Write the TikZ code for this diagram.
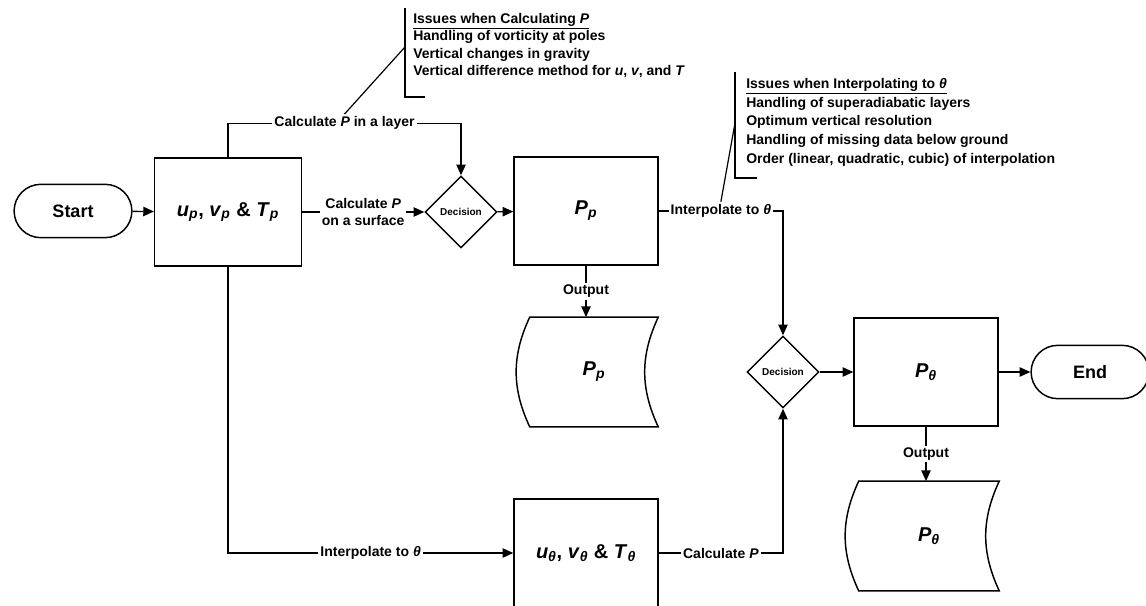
\documentclass[tikz,border=0pt]{standalone}
\usepackage{fontspec}
\setmainfont{Liberation Sans}
\usetikzlibrary{shapes.geometric,shapes.misc,arrows.meta}

\newcommand\vsub[2]{\textit{#1}\textsubscript{\textit{#2}}}

\begin{document}
\begin{tikzpicture}[x=0.75pt, y=-0.75pt, font=\bfseries\fontsize{10.5}{13}\selectfont,
  box/.style={draw, line width=1.1pt, minimum width=108pt, minimum height=81pt, font=\bfseries\fontsize{15}{18}\selectfont},
  term/.style={draw, rounded rectangle, line width=1.1pt, minimum width=95pt, minimum height=40pt, font=\bfseries\fontsize{13.5}{16}\selectfont},
  decision/.style={draw, diamond, line width=1.1pt, minimum width=54pt, minimum height=54pt, inner sep=0pt, font=\bfseries\fontsize{7.5}{9}\selectfont},
  store/.style={minimum height=82pt, font=\bfseries\fontsize{15}{18}\selectfont},
  arr/.style={line width=1pt, -{Triangle[length=8pt,width=7pt]}},
  line/.style={line width=0.9pt},
  lbl/.style={fill=white, inner sep=1.5pt},
  issues/.style={anchor=north west, align=left, inner sep=0pt}]
\useasboundingbox (0,0) rectangle (1146,606);

\node[term] (start) at (73,211) {Start};
\node[box, minimum width=110pt] (b1) at (228,212) {\vsub{u}{p}, \vsub{v}{p} \& \vsub{T}{p}};
\node[decision] (dec1) at (461,212) {Decision};
\node[box] (b2) at (586,211) {\vsub{P}{p}};
\node[store, minimum width=96pt] (d1) at (594,372) {\vsub{P}{p}};
\node[decision] (dec2) at (783,372) {Decision};
\node[box] (b3) at (926,372) {\vsub{P}{θ}};
\node[term] (end) at (1090,372) {End};
\node[store, minimum width=105pt] (d2) at (929,536) {\vsub{P}{θ}};
\node[box] (b4) at (586,553) {\vsub{u}{θ}, \vsub{v}{θ} \& \vsub{T}{θ}};

\foreach \d in {d1,d2}
  \draw[line width=1.1pt] (\d.north east) -- (\d.north west) to[bend right=25] (\d.south west)
    -- (\d.south east) to[bend left=25] (\d.north east) -- cycle;

\draw[arr] (start) -- (b1);
\draw[arr] (b1) -- node[lbl, align=center] {Calculate \textit{P}\\on a surface} (dec1);
\draw[arr] (b1.north) -- ++(0,-34) -| node[lbl, pos=0.25] (lay) {Calculate \textit{P} in a layer} (dec1.north);
\draw[arr] (dec1) -- (b2);
\draw[arr] (b2.south) -- node[lbl] {Output} (b2.south |- d1.north);
\draw[arr] (b2.east) -| node[lbl, pos=0.25] (itp) {Interpolate to \textit{θ}} (dec2.north);
\draw[arr] (b1.south) |- node[lbl, pos=0.75] {Interpolate to \textit{θ}} (b4.west);
\draw[arr] (b4.east) -| node[lbl, pos=0.25] {Calculate \textit{P}} (dec2.south);
\draw[arr] (dec2) -- (b3);
\draw[arr] (b3) -- (end);
\draw[arr] (b3.south) -- node[lbl] {Output} (b3.south |- d2.north);

\node[issues, font=\bfseries\fontsize{10.5}{13.1}\selectfont] (iss1) at (413,13) {\underline{Issues when Calculating \textit{P}}\\
  Handling of vorticity at poles\\
  Vertical changes in gravity\\
  Vertical difference method for \textit{u}, \textit{v}, and \textit{T}};
\draw[line] (405,8) -- (405,97) -- (425,97);
\coordinate (br1) at (405,47);
\draw[line] (br1) -- (lay.north);

\node[issues, font=\bfseries\fontsize{10.5}{14}\selectfont] (iss2) at (746,78) {\underline{Issues when Interpolating to \textit{θ}}\\
  Handling of superadiabatic layers\\
  Optimum vertical resolution\\
  Handling of missing data below ground\\
  Order (linear, quadratic, cubic) of interpolation};
\draw[line] (735,72) -- (735,178) -- (757,178);
\coordinate (br2) at (735,123);
\draw[line] (br2) -- (itp.north);
\end{tikzpicture}
\end{document}
